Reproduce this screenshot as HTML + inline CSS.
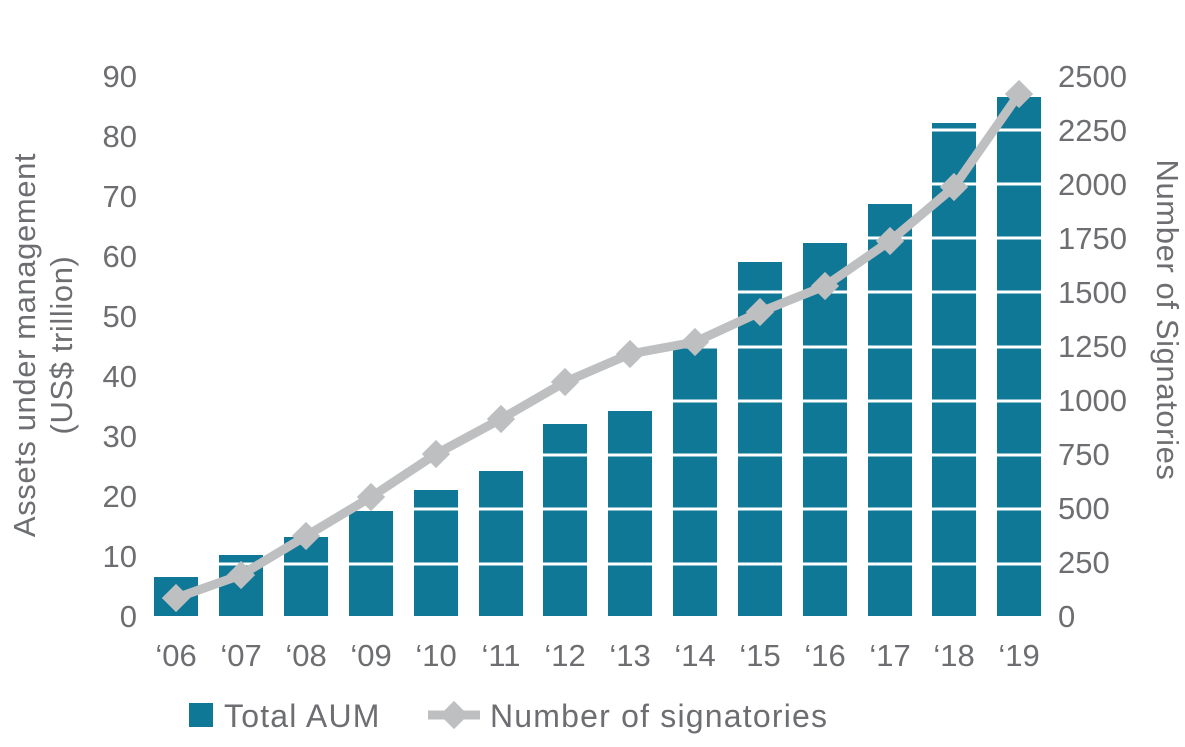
<!DOCTYPE html>
<html><head><style>
body{margin:0;background:#fff;}
text{font-family:"Liberation Sans",sans-serif;fill:#6d6e71;}
</style></head><body>
<svg width="1185" height="742" viewBox="0 0 1185 742" xmlns="http://www.w3.org/2000/svg">
<g fill="#0f7896">
<rect x="154" y="577" width="44" height="39"/>
<rect x="219" y="555" width="44" height="61"/>
<rect x="284" y="537" width="44" height="79"/>
<rect x="349" y="511" width="44" height="105"/>
<rect x="414" y="490" width="44" height="126"/>
<rect x="479" y="471" width="44" height="145"/>
<rect x="543" y="424" width="44" height="192"/>
<rect x="608" y="411" width="44" height="205"/>
<rect x="673" y="346" width="44" height="270"/>
<rect x="738" y="262" width="44" height="354"/>
<rect x="803" y="243" width="44" height="373"/>
<rect x="868" y="204" width="44" height="412"/>
<rect x="932" y="123" width="44" height="493"/>
<rect x="997" y="97" width="44" height="519"/>
</g>
<g stroke="#fff" stroke-width="3">
<line x1="140" x2="1045" y1="564" y2="564"/>
<line x1="140" x2="1045" y1="509" y2="509"/>
<line x1="140" x2="1045" y1="455" y2="455"/>
<line x1="140" x2="1045" y1="401" y2="401"/>
<line x1="140" x2="1045" y1="347" y2="347"/>
<line x1="140" x2="1045" y1="292" y2="292"/>
<line x1="140" x2="1045" y1="238" y2="238"/>
<line x1="140" x2="1045" y1="184" y2="184"/>
<line x1="140" x2="1045" y1="130" y2="130"/>
</g>
<polyline fill="none" stroke="#bdbfc0" stroke-width="9" stroke-linejoin="round" points="176,598 241,575 306,536 371,497 436,454 501,419 565,382 630,354 695,342 760,312 825,286 890,241 954,187 1019,94"/>
<g fill="#bdbfc0">
<g transform="translate(176,598) rotate(45)"><rect x="-10" y="-10" width="20" height="20"/></g>
<g transform="translate(241,575) rotate(45)"><rect x="-10" y="-10" width="20" height="20"/></g>
<g transform="translate(306,536) rotate(45)"><rect x="-10" y="-10" width="20" height="20"/></g>
<g transform="translate(371,497) rotate(45)"><rect x="-10" y="-10" width="20" height="20"/></g>
<g transform="translate(436,454) rotate(45)"><rect x="-10" y="-10" width="20" height="20"/></g>
<g transform="translate(501,419) rotate(45)"><rect x="-10" y="-10" width="20" height="20"/></g>
<g transform="translate(565,382) rotate(45)"><rect x="-10" y="-10" width="20" height="20"/></g>
<g transform="translate(630,354) rotate(45)"><rect x="-10" y="-10" width="20" height="20"/></g>
<g transform="translate(695,342) rotate(45)"><rect x="-10" y="-10" width="20" height="20"/></g>
<g transform="translate(760,312) rotate(45)"><rect x="-10" y="-10" width="20" height="20"/></g>
<g transform="translate(825,286) rotate(45)"><rect x="-10" y="-10" width="20" height="20"/></g>
<g transform="translate(890,241) rotate(45)"><rect x="-10" y="-10" width="20" height="20"/></g>
<g transform="translate(954,187) rotate(45)"><rect x="-10" y="-10" width="20" height="20"/></g>
<g transform="translate(1019,94) rotate(45)"><rect x="-10" y="-10" width="20" height="20"/></g>
</g>
<g font-size="31" text-anchor="end">
<text x="137" y="627">0</text><text x="137" y="567">10</text><text x="137" y="507">20</text>
<text x="137" y="447">30</text><text x="137" y="387">40</text><text x="137" y="327">50</text>
<text x="137" y="267">60</text><text x="137" y="207">70</text><text x="137" y="147">80</text>
<text x="137" y="87">90</text>
</g>
<g font-size="31" text-anchor="start">
<text x="1058" y="627">0</text><text x="1058" y="573">250</text><text x="1058" y="519">500</text>
<text x="1058" y="465">750</text><text x="1058" y="411">1000</text><text x="1058" y="357">1250</text>
<text x="1058" y="303">1500</text><text x="1058" y="249">1750</text><text x="1058" y="195">2000</text>
<text x="1058" y="141">2250</text><text x="1058" y="87">2500</text>
</g>
<g font-size="31" text-anchor="middle">
<text x="176" y="666">‘06</text><text x="241" y="666">‘07</text><text x="306" y="666">‘08</text>
<text x="371" y="666">‘09</text><text x="436" y="666">‘10</text><text x="501" y="666">‘11</text>
<text x="565" y="666">‘12</text><text x="630" y="666">‘13</text><text x="695" y="666">‘14</text>
<text x="760" y="666">‘15</text><text x="825" y="666">‘16</text><text x="890" y="666">‘17</text>
<text x="954" y="666">‘18</text><text x="1019" y="666">‘19</text>
</g>
<text font-size="31" letter-spacing="0.6" text-anchor="middle" transform="translate(35,345) rotate(-90)">Assets under management</text>
<text font-size="31" letter-spacing="0.6" text-anchor="middle" transform="translate(72,345) rotate(-90)">(US$ trillion)</text>
<text font-size="31" letter-spacing="0.6" text-anchor="middle" transform="translate(1157,320) rotate(90)">Number of Signatories</text>
<rect x="189" y="703" width="24" height="24" fill="#0f7896"/>
<text x="224" y="727" font-size="32" letter-spacing="1.2">Total AUM</text>
<line x1="428" x2="480" y1="715" y2="715" stroke="#bdbfc0" stroke-width="9"/>
<g transform="translate(454,715) rotate(45)"><rect x="-10" y="-10" width="20" height="20" fill="#bdbfc0"/></g>
<text x="490" y="727" font-size="32" letter-spacing="1.2">Number of signatories</text>
</svg>
</body></html>
